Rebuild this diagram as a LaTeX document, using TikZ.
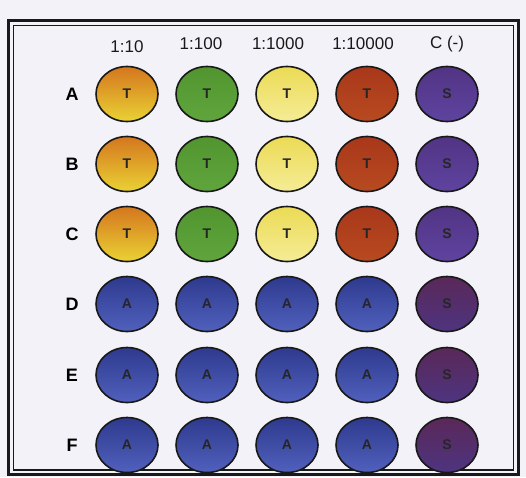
\documentclass[tikz,border=0pt]{standalone}
\usepackage{fontspec}
\setmainfont{Liberation Sans}[BoldFont={Liberation Sans Bold}]
\begin{document}
\begin{tikzpicture}[x=1pt,y=-1pt,
  well/.style={ellipse,minimum width=62pt,minimum height=55pt,draw=black!90,line width=1.6pt,inner sep=0pt,
     font=\fontsize{14}{14}\selectfont\bfseries,text=black!85},
  wT1/.style={well,top color=c1top,bottom color=c1bot},
  wT2/.style={well,top color=c2top,bottom color=c2bot},
  wT3/.style={well,top color=c3top,bottom color=c3bot},
  wT4/.style={well,top color=c4top,bottom color=c4bot},
  wS/.style={well,top color=c5top,bottom color=c5bot},
  wSd/.style={well,top color=c6top,bottom color=c6bot},
  wA/.style={well,top color=cAtop,bottom color=cAbot},
  rowlab/.style={font=\fontsize{18}{18}\selectfont\bfseries,text=black},
  collab/.style={font=\fontsize{17}{17}\selectfont,text=black!90},
  ]
\usetikzlibrary{shapes.geometric}
\definecolor{bg}{HTML}{F2F2F8}
\definecolor{c1top}{HTML}{D4761E}
\definecolor{c1bot}{HTML}{EAD234}
\definecolor{c2top}{HTML}{529530}
\definecolor{c2bot}{HTML}{5FA53C}
\definecolor{c3top}{HTML}{EBDB55}
\definecolor{c3bot}{HTML}{F5EC96}
\definecolor{c4top}{HTML}{A8381A}
\definecolor{c4bot}{HTML}{B84A20}
\definecolor{c5top}{HTML}{523484}
\definecolor{c5bot}{HTML}{5E44A0}
\definecolor{c6top}{HTML}{5A2858}
\definecolor{c6bot}{HTML}{4E3480}
\definecolor{cAtop}{HTML}{2E3A8E}
\definecolor{cAbot}{HTML}{5060BC}
\fill[bg] (0,0) rectangle (526,477);
\useasboundingbox (0,0) rectangle (526,477);
% frame
\draw[line width=2.8pt,black!90] (8.5,20.5) rectangle (518.5,474.5);
\draw[line width=1.8pt,black!90] (13.5,25.5) rectangle (513.5,470);
% column headers
\node[collab] (h1) at (127,47) {1:10};
\node[collab] (h2) at (201,44) {1:100};
\node[collab] (h3) at (278,44) {1:1000};
\node[collab] (h4) at (363,44) {1:10000};
\node[collab] (h5) at (447,44) {C (-)};
% rows
\foreach \r/\y in {A/94,B/164,C/234}{
  \node[rowlab] (l\r) at (72,\y) {\r};
  \node[wT1] (\r1) at (127,\y) {T};
  \node[wT2] (\r2) at (207,\y) {T};
  \node[wT3] (\r3) at (287,\y) {T};
  \node[wT4] (\r4) at (367,\y) {T};
  \node[wS]  (\r5) at (447,\y) {S};
}
\foreach \r/\y in {D/304,E/375,F/445}{
  \node[rowlab] (l\r) at (72,\y) {\r};
  \node[wA] (\r1) at (127,\y) {A};
  \node[wA] (\r2) at (207,\y) {A};
  \node[wA] (\r3) at (287,\y) {A};
  \node[wA] (\r4) at (367,\y) {A};
  \node[wSd] (\r5) at (447,\y) {S};
}
\end{tikzpicture}
\end{document}
